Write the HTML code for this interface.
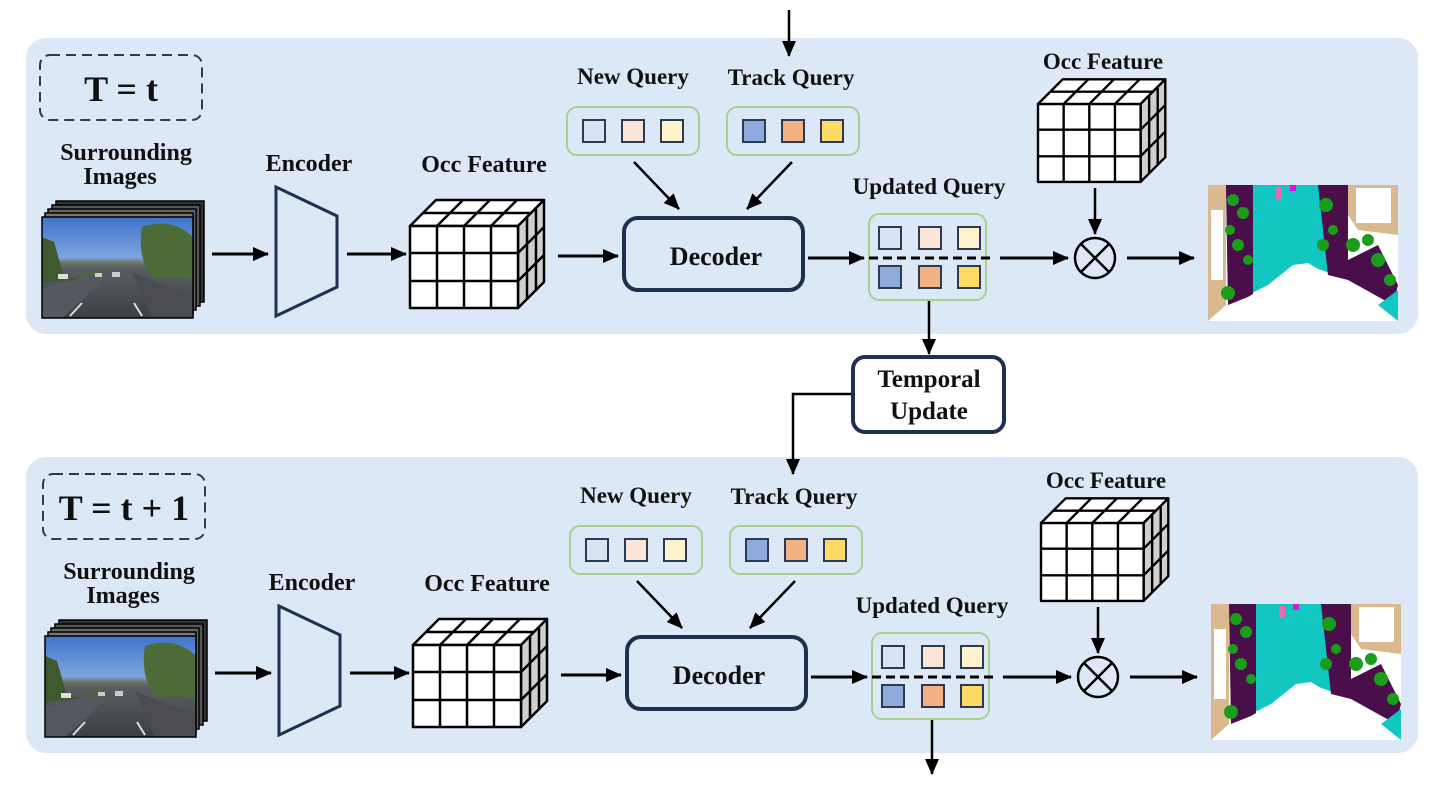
<!DOCTYPE html>
<html><head><meta charset="utf-8"><style>
html,body{margin:0;padding:0;background:#fff;}
svg{display:block;}
text{font-family:"Liberation Serif",serif;font-weight:bold;fill:#111;text-anchor:middle;}
</style></head><body>
<svg width="1441" height="793" viewBox="0 0 1441 793" xmlns="http://www.w3.org/2000/svg">
<defs>
<marker id="ah2" markerWidth="16" markerHeight="14" refX="15" refY="7" orient="auto" markerUnits="userSpaceOnUse">
<path d="M0,0 L16,7 L0,14 Z" fill="#000"/></marker>
<linearGradient id="sky" x1="0" y1="0" x2="0" y2="1">
<stop offset="0" stop-color="#3f72c9"/><stop offset="0.4" stop-color="#7da5e0"/><stop offset="0.45" stop-color="#6c7a6a"/><stop offset="0.5" stop-color="#5a5e63"/><stop offset="1" stop-color="#3d3f44"/></linearGradient>
<g id="photo">
<rect x="0" y="0" width="151" height="101" fill="url(#sky)"/>
<path d="M0,20 L12,25 L22,60 L40,62 L0,66Z" fill="#3e5a2c"/>
<path d="M100,10 Q130,0 151,20 L151,62 L110,60 Q95,40 100,10Z" fill="#4c6b36"/>
<path d="M40,58 L60,52 L62,62 L40,62Z" fill="#4a6a35"/>
<path d="M0,72 L60,55 L70,55 L20,101 L0,101Z" fill="#55585e"/>
<path d="M90,55 L151,80 L151,101 L110,101Z" fill="#4a4c52"/>
<line x1="28" y1="99" x2="40" y2="86" stroke="#ddd" stroke-width="2"/>
<line x1="100" y1="99" x2="92" y2="86" stroke="#ddd" stroke-width="2"/>
<rect x="16" y="57" width="10" height="5" fill="#ddd"/>
<rect x="53" y="56" width="7" height="4" fill="#ccc"/>
<rect x="70" y="55" width="8" height="5" fill="#ccc"/>
</g>
<g id="stack">
<rect x="56" y="201" width="148" height="101" fill="#333" stroke="#000" stroke-width="1.5"/>
<rect x="52" y="205" width="148" height="101" fill="#555" stroke="#000" stroke-width="1.5"/>
<rect x="48" y="209" width="148" height="101" fill="#666" stroke="#000" stroke-width="1.5"/>
<rect x="45" y="213" width="148" height="101" fill="#777" stroke="#000" stroke-width="1.5"/>
<use href="#photo" x="42" y="217"/>
<rect x="42" y="217" width="151" height="101" fill="none" stroke="#000" stroke-width="1.5"/>
</g>
<g id="cube" stroke="#000" stroke-width="2.5" stroke-linejoin="round">
<path d="M0,0 L26,-26 L134,-26 L108,0Z" fill="#fff"/>
<path d="M108,0 L134,-26 L134,56 L108,82Z" fill="#cfcfcf"/>
<rect x="0" y="0" width="108" height="82" fill="#fff"/>
<path d="M27,0 V82 M54,0 V82 M81,0 V82 M0,27 H108 M0,55 H108" fill="none"/>
<path d="M13,-13 H121 M27,0 L53,-26 M54,0 L80,-26 M81,0 L107,-26 M117,-9 V73 M126,-17 V65 M108,27 L134,1 M108,55 L134,29" fill="none"/>
</g>
<g id="seg">
<rect x="0" y="0" width="190" height="136" fill="#fff"/>
<path d="M18,0 L140,0 L140,95 L100,80 L60,100 L20,120 Z" fill="#12c7c1"/>
<path d="M18,0 L45,0 L45,110 L20,120Z" fill="#4a0f4a"/>
<path d="M110,0 L140,0 L140,95 L120,90Z" fill="#4a0f4a"/>
<path d="M130,80 L170,60 L190,100 L185,120 L140,95Z" fill="#4a0f4a"/>
<path d="M170,120 L190,105 L190,136 Z" fill="#12c7c1"/>
<path d="M0,136 L60,100 L85,80 L100,78 L120,90 L190,136Z" fill="#fff"/>
<path d="M0,0 L18,0 L18,120 L0,136Z" fill="#d9b98d"/>
<rect x="3" y="25" width="12" height="70" fill="#fff"/>
<path d="M140,0 L190,0 L190,50 L150,45 L140,30Z" fill="#d9b98d"/>
<rect x="148" y="3" width="35" height="35" fill="#fff"/>
<g fill="#1a9e1a"><circle cx="25" cy="15" r="6"/><circle cx="35" cy="28" r="6"/><circle cx="22" cy="45" r="5"/><circle cx="30" cy="60" r="6"/><circle cx="20" cy="108" r="7"/><circle cx="118" cy="20" r="7"/><circle cx="115" cy="60" r="6"/><circle cx="125" cy="45" r="5"/><circle cx="145" cy="60" r="7"/><circle cx="160" cy="55" r="6"/><circle cx="170" cy="75" r="7"/><circle cx="182" cy="95" r="6"/><circle cx="40" cy="75" r="5"/></g>
<rect x="68" y="2" width="6" height="12" fill="#ee6ab0"/>
<rect x="82" y="0" width="6" height="6" fill="#e010e0"/>
</g>
</defs>

<rect x="26" y="38" width="1392" height="296" rx="20" fill="#dce8f5"/>
<rect x="26" y="457" width="1392" height="296" rx="20" fill="#dce8f5"/>

<line x1="789" y1="10" x2="789" y2="56" stroke="#000" stroke-width="2.5" marker-end="url(#ah2)"/>

<line x1="929" y1="300" x2="929" y2="354" stroke="#000" stroke-width="2.5" marker-end="url(#ah2)"/>
<rect x="853" y="357" width="151" height="75" rx="12" fill="#fff" stroke="#1e2f4f" stroke-width="4"/>
<text x="929" y="387" font-size="25">Temporal</text>
<text x="929" y="419" font-size="25">Update</text>
<polyline points="851,394 793,394 793,474" fill="none" stroke="#000" stroke-width="2.5" marker-end="url(#ah2)"/>
<line x1="932" y1="720" x2="932" y2="774" stroke="#000" stroke-width="2.5" marker-end="url(#ah2)"/>

<g id="P1">
<rect x="40" y="55" width="162" height="65" rx="10" fill="none" stroke="#2b3a55" stroke-width="2" stroke-dasharray="10,6"/>
<use href="#stack"/>
<line x1="212" y1="254" x2="268" y2="254" stroke="#000" stroke-width="3" marker-end="url(#ah2)"/>
<polygon points="276,187 337,216 337,287 276,316" fill="none" stroke="#1f3050" stroke-width="3"/>
<line x1="347" y1="254" x2="406" y2="254" stroke="#000" stroke-width="3" marker-end="url(#ah2)"/>
<use href="#cube" x="410" y="226"/>
<line x1="558" y1="256" x2="618" y2="256" stroke="#000" stroke-width="3" marker-end="url(#ah2)"/>
<rect x="624" y="218" width="179" height="72" rx="14" fill="none" stroke="#1e2f4f" stroke-width="4"/>
<rect x="567" y="107" width="132" height="48" rx="10" fill="#dce8f5" stroke="#a9d18e" stroke-width="2"/>
<rect x="583" y="120" width="22" height="22" fill="#dae3f3" stroke="#2b3a55" stroke-width="2"/>
<rect x="622" y="120" width="22" height="22" fill="#fbe5d6" stroke="#2b3a55" stroke-width="2"/>
<rect x="661" y="120" width="22" height="22" fill="#fff2cc" stroke="#2b3a55" stroke-width="2"/>
<rect x="727" y="107" width="132" height="48" rx="10" fill="#dce8f5" stroke="#a9d18e" stroke-width="2"/>
<rect x="743" y="120" width="22" height="22" fill="#8faadc" stroke="#2b3a55" stroke-width="2"/>
<rect x="782" y="120" width="22" height="22" fill="#f4b183" stroke="#2b3a55" stroke-width="2"/>
<rect x="821" y="120" width="22" height="22" fill="#ffd966" stroke="#2b3a55" stroke-width="2"/>
<line x1="634" y1="162" x2="679" y2="209" stroke="#000" stroke-width="2.5" marker-end="url(#ah2)"/>
<line x1="792" y1="162" x2="747" y2="209" stroke="#000" stroke-width="2.5" marker-end="url(#ah2)"/>
<line x1="808" y1="258" x2="864" y2="258" stroke="#000" stroke-width="3" marker-end="url(#ah2)"/>
<rect x="869" y="214" width="117" height="86" rx="10" fill="#dce8f5" stroke="#a9d18e" stroke-width="2"/>
<rect x="879" y="227" width="22" height="22" fill="#dae3f3" stroke="#2b3a55" stroke-width="2"/>
<rect x="919" y="227" width="22" height="22" fill="#fbe5d6" stroke="#2b3a55" stroke-width="2"/>
<rect x="958" y="227" width="22" height="22" fill="#fff2cc" stroke="#2b3a55" stroke-width="2"/>
<rect x="879" y="266" width="22" height="22" fill="#8faadc" stroke="#2b3a55" stroke-width="2"/>
<rect x="919" y="266" width="22" height="22" fill="#f4b183" stroke="#2b3a55" stroke-width="2"/>
<rect x="958" y="266" width="22" height="22" fill="#ffd966" stroke="#2b3a55" stroke-width="2"/>
<line x1="869" y1="258" x2="992" y2="258" stroke="#000" stroke-width="3" stroke-dasharray="9,5"/>
<line x1="1000" y1="258" x2="1068" y2="258" stroke="#000" stroke-width="3" marker-end="url(#ah2)"/>
<circle cx="1095" cy="258" r="20" fill="none" stroke="#000" stroke-width="2.5"/>
<path d="M1081,244 L1109,272 M1109,244 L1081,272" stroke="#000" stroke-width="2.5"/>
<line x1="1095" y1="188" x2="1095" y2="234" stroke="#000" stroke-width="2.5" marker-end="url(#ah2)"/>
<line x1="1127" y1="258" x2="1194" y2="258" stroke="#000" stroke-width="3" marker-end="url(#ah2)"/>
<use href="#cube" x="1038" y="104" transform="translate(1038,104) scale(0.95) translate(-1038,-104)"/>
<use href="#seg" x="1208" y="185"/>
</g>
<use href="#P1" transform="translate(3,419)"/>

<text x="121" y="101" font-size="36">T = t</text>
<text x="126" y="160" font-size="24">Surrounding</text>
<text x="120" y="184" font-size="24">Images</text>
<text x="309" y="171" font-size="24">Encoder</text>
<text x="484" y="172" font-size="24">Occ Feature</text>
<text x="633" y="84" font-size="23">New Query</text>
<text x="791" y="85" font-size="23">Track Query</text>
<text x="716" y="265" font-size="26">Decoder</text>
<text x="929" y="194" font-size="23">Updated Query</text>
<text x="1103" y="69" font-size="23">Occ Feature</text>
<text x="124" y="520" font-size="36">T = t + 1</text>
<text x="129" y="579" font-size="24">Surrounding</text>
<text x="123" y="603" font-size="24">Images</text>
<text x="312" y="590" font-size="24">Encoder</text>
<text x="487" y="591" font-size="24">Occ Feature</text>
<text x="636" y="503" font-size="23">New Query</text>
<text x="794" y="504" font-size="23">Track Query</text>
<text x="719" y="684" font-size="26">Decoder</text>
<text x="932" y="613" font-size="23">Updated Query</text>
<text x="1106" y="488" font-size="23">Occ Feature</text>
</svg>
</body></html>
